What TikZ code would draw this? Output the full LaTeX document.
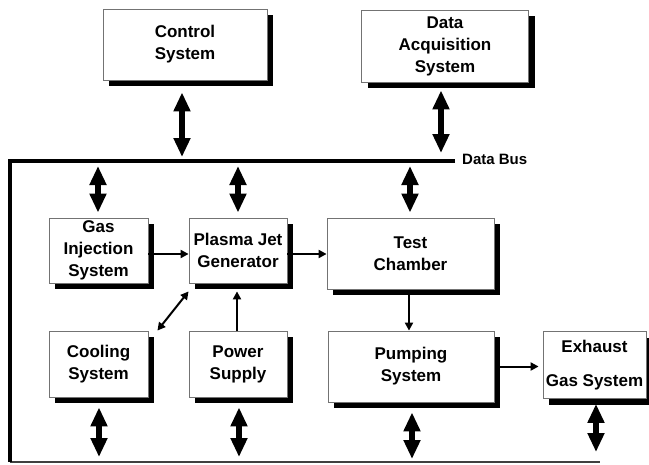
\documentclass[tikz,border=0pt]{standalone}
\usepackage{fontspec}
\setmainfont{Liberation Sans}
\usetikzlibrary{arrows.meta,shadows}
\begin{document}
\begin{tikzpicture}[x=1pt,y=-1pt,
  blk/.style={draw=black!55, line width=0.8pt, fill=white, inner sep=0pt, align=center,
    font=\bfseries\fontsize{17}{22}\selectfont,
    drop shadow={shadow xshift=6pt, shadow yshift=-6pt, opacity=1, fill=black}},
  busline/.style={line width=3.5pt, line join=miter},
  dbl/.style={line width=6pt, {Triangle[width=16pt,length=19pt]}-{Triangle[width=16pt,length=19pt]}},
  flow/.style={line width=2pt, -{Triangle[width=8pt,length=8pt]}},
  flowdbl/.style={line width=2pt, {Triangle[width=8pt,length=8pt]}-{Triangle[width=8pt,length=8pt]}},
]
\useasboundingbox (0,0) rectangle (649,464);

% blocks
\node[blk, minimum width=164pt, minimum height=71pt] (ctrl)  at (185,44.5)  {Control\\System};
\node[blk, minimum width=167pt, minimum height=72pt] (daq)   at (445,46)    {Data\\Acquisition\\System};
\node[blk, minimum width=99pt,  minimum height=65pt] (gas)   at (98.5,250.5){Gas\\Injection\\System};
\node[blk, minimum width=98pt,  minimum height=65pt] (pjg)   at (238,250.5) {Plasma Jet\\Generator};
\node[blk, minimum width=167pt, minimum height=71pt] (test)  at (410.5,253.5){Test\\Chamber};
\node[blk, minimum width=99pt,  minimum height=66pt] (cool)  at (98.5,364)  {Cooling\\System};
\node[blk, minimum width=98pt,  minimum height=66pt] (power) at (238,364)   {Power\\Supply};
\node[blk, minimum width=166pt, minimum height=71pt] (pump)  at (411,366.5) {Pumping\\System};
\node[blk, minimum width=103pt, minimum height=67pt] (exh)   at (594.5,365) {Exhaust\\[12pt]Gas System};

% data bus
\coordinate (busL) at (10,161);
\coordinate (busR) at (455,161);
\coordinate (botL) at (10,462);
\coordinate (botR) at (600,462);
\draw[line width=2pt, black!75] (botL) -- (botR);
\draw[busline] (busR) -- (busL) -- (botL);
\node[anchor=west, inner sep=0pt, font=\bfseries\fontsize{15}{18}\selectfont] (lbl) at (462,159) {Data Bus};

% bus taps
\coordinate (t1) at (182,159);
\coordinate (t2) at (441,159);
\coordinate (t3) at (98,163);
\coordinate (t4) at (238,163);
\coordinate (t5) at (410,163);
\coordinate (u1) at (99,461);
\coordinate (u2) at (239,461);
\coordinate (u3) at (412,461);
\coordinate (u4) at (596,461);

\draw[dbl, shorten <=12pt, shorten >=2pt] (ctrl.south -| t1) -- (t1);
\draw[dbl, shorten <=8pt,  shorten >=6pt] (daq.south -| t2) -- (t2);
\draw[dbl, shorten <=3pt,  shorten >=5pt] (t3) -- (gas.north -| t3);
\draw[dbl, shorten <=3pt,  shorten >=5pt] (t4) -- (pjg.north -| t4);
\draw[dbl, shorten <=3pt,  shorten >=5pt] (t5) -- (test.north -| t5);
\draw[dbl, shorten <=10pt, shorten >=4pt] (cool.south -| u1) -- (u1);
\draw[dbl, shorten <=10pt, shorten >=4pt] (power.south -| u2) -- (u2);
\draw[dbl, shorten <=10pt, shorten >=2pt] (pump.south -| u3) -- (u3);
\draw[dbl, shorten <=5pt,  shorten >=9pt] (exh.south -| u4) -- (u4);

% process flow
\draw[flow] ([yshift=-3.5pt]gas.east) -- ([yshift=-3.5pt]pjg.west);
\draw[flow] ([yshift=-3.5pt]pjg.east) -- ([yshift=-3.5pt]pjg.east -| test.west);
\draw[flow, shorten <=6pt] (test.south -| 409,0) -- (pump.north -| 409,0);
\draw[flow, shorten <=6pt, shorten >=4pt] (pump.east) -- (pump.east -| exh.west);
\draw[flow, shorten >=8pt] (power.north -| 237,0) -- (pjg.south -| 237,0);
\draw[flowdbl] ([xshift=9pt]cool.north east) -- ([yshift=-8pt]pjg.south west);
\end{tikzpicture}
\end{document}
